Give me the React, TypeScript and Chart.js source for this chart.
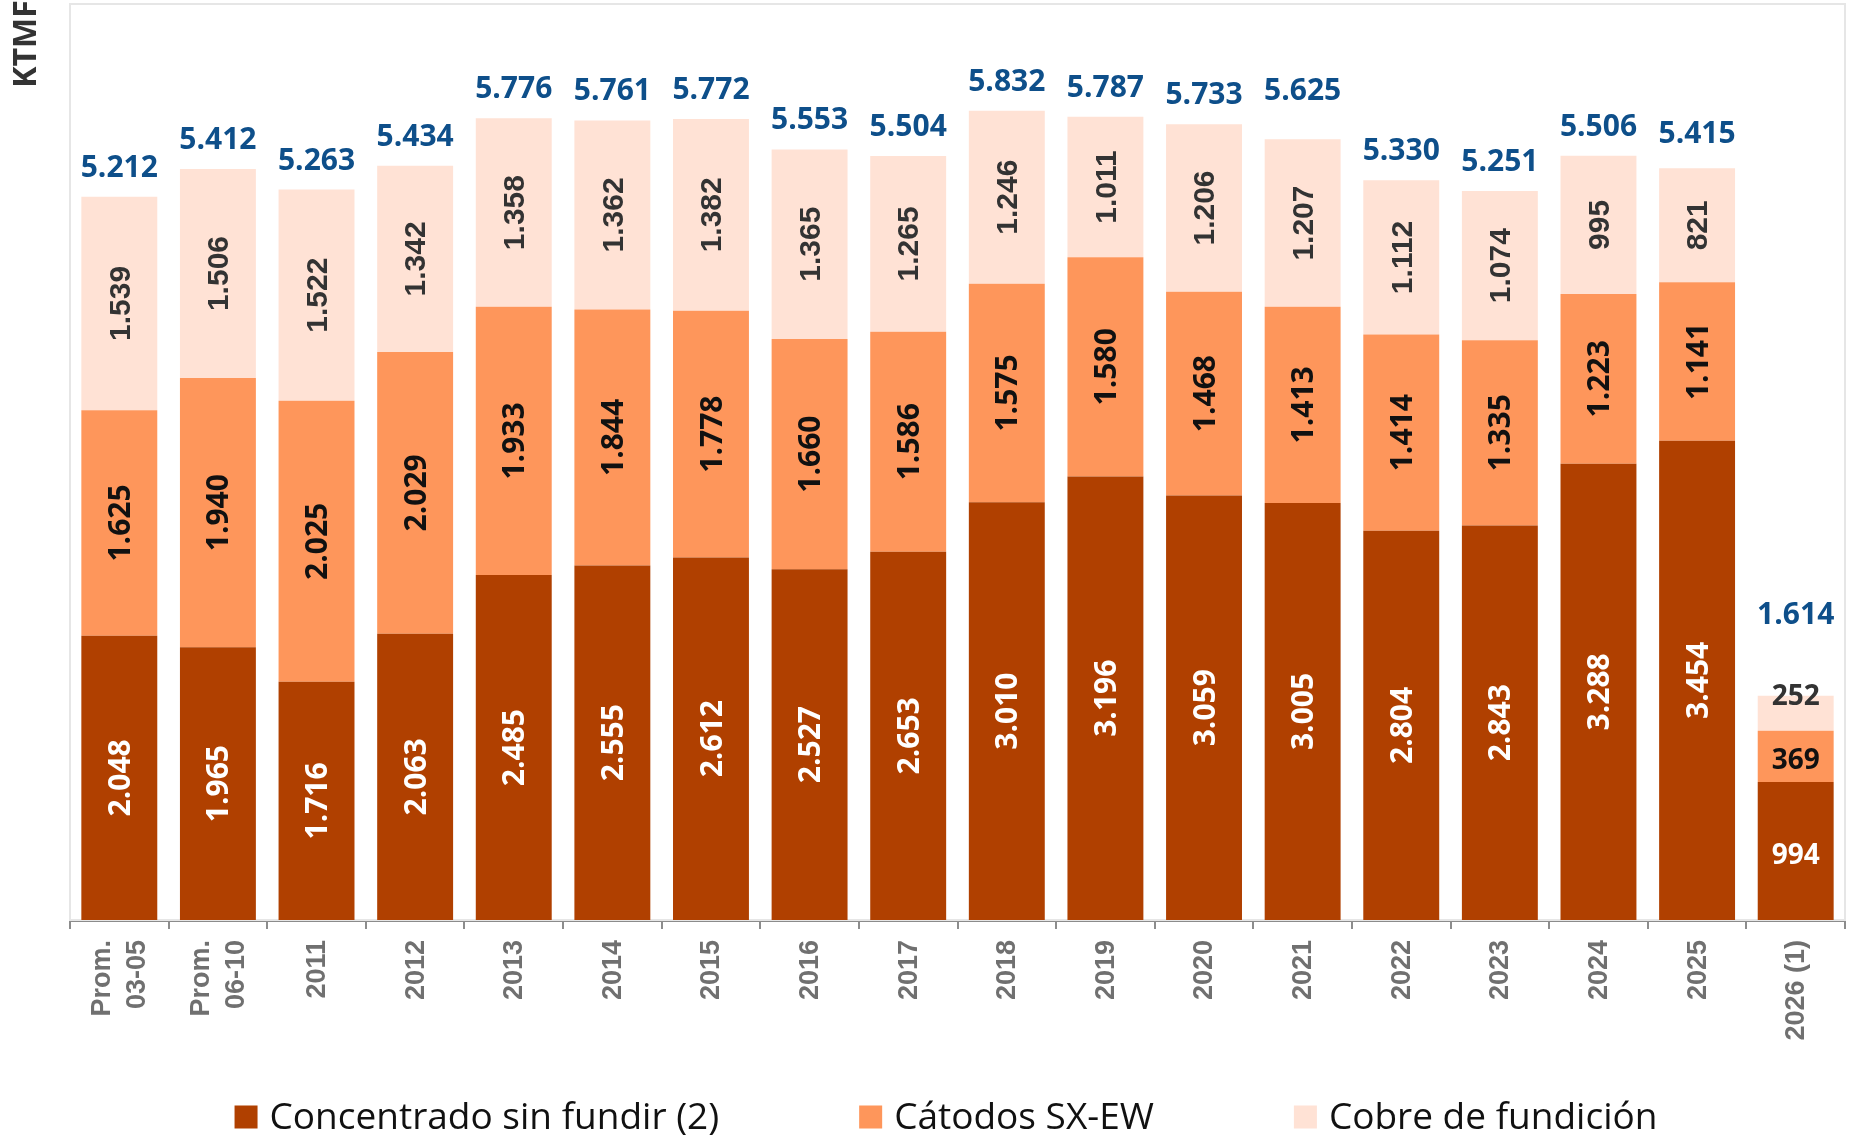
import React, { useEffect, useRef } from "react";
import { Chart, registerables } from "chart.js";

Chart.register(...registerables);

const categories: (string | string[])[] = [
  ["Prom.", "03-05"], ["Prom.", "06-10"], "2011", "2012", "2013", "2014", "2015", "2016",
  "2017", "2018", "2019", "2020", "2021", "2022", "2023", "2024", "2025", "2026 (1)",
];
const concentrado = [2048, 1965, 1716, 2063, 2485, 2555, 2612, 2527, 2653, 3010, 3196, 3059, 3005, 2804, 2843, 3288, 3454, 994];
const catodos = [1625, 1940, 2025, 2029, 1933, 1844, 1778, 1660, 1586, 1575, 1580, 1468, 1413, 1414, 1335, 1223, 1141, 369];
const fundicion = [1539, 1506, 1522, 1342, 1358, 1362, 1382, 1365, 1265, 1246, 1011, 1206, 1207, 1112, 1074, 995, 821, 252];
const totals = [5212, 5412, 5263, 5434, 5776, 5761, 5772, 5553, 5504, 5832, 5787, 5733, 5625, 5330, 5251, 5506, 5415, 1614];
const seriesNames = ["Concentrado sin fundir (2)", "Cátodos SX-EW", "Cobre de fundición"];
const seriesColors = ["#B04000", "#FE965B", "#FFE2D5"];
const yAxisTitle = "KTMF";

const fmt = (v: number) => String(v).replace(/\B(?=(\d{3})+(?!\d))/g, ".");

const framePlugin = {
  id: "frame",
  beforeDatasetsDraw(chart: any) {
    const { ctx, chartArea } = chart;
    ctx.save();
    ctx.strokeStyle = "#e6e6e6";
    ctx.lineWidth = 2;
    ctx.strokeRect(chartArea.left, chartArea.top, chartArea.right - chartArea.left, chartArea.bottom - chartArea.top);
    ctx.restore();
  },
};

const labelPlugin = {
  id: "valueLabels",
  afterDatasetsDraw(chart: any) {
    const ctx = chart.ctx;
    const last = categories.length - 1;
    ctx.save();
    chart.data.datasets.forEach((ds: any, di: number) => {
      const meta = chart.getDatasetMeta(di);
      meta.data.forEach((bar: any, i: number) => {
        const v = ds.data[i] as number;
        const p = bar.getProps(["x", "y", "base"], true);
        const cy = (p.y + p.base) / 2;
        let color = "#ffffff";
        let font = 'bold 30px "Open Sans"';
        if (di === 1) color = "#111111";
        if (di === 2) {
          color = "#333333";
          font = 'bold 30px "Liberation Sans"';
        }
        ctx.fillStyle = color;
        ctx.textAlign = "center";
        ctx.textBaseline = "middle";
        if (i === last) {
          ctx.font = 'bold 28px "Open Sans"';
          const yy = di === 2 ? p.y + 1 : cy + 5;
          ctx.fillText(fmt(v), p.x, yy);
        } else {
          ctx.font = font;
          ctx.save();
          ctx.translate(p.x, cy);
          ctx.rotate(-Math.PI / 2);
          ctx.fillText(fmt(v), 0, 2);
          ctx.restore();
        }
      });
    });
    // totals
    const topMeta = chart.getDatasetMeta(2);
    ctx.fillStyle = "#0E4F8A";
    ctx.font = 'bold 30px "Open Sans"';
    ctx.textAlign = "center";
    ctx.textBaseline = "alphabetic";
    topMeta.data.forEach((bar: any, i: number) => {
      const p = bar.getProps(["x", "y"], true);
      let off = 20;
      if (i === last) off = 72;
      else if (i === 12) off = 39;
      else if (i === 16) off = 25;
      ctx.fillText(fmt(totals[i]), p.x, p.y - off);
    });
    ctx.restore();
  },
};

const extrasPlugin = {
  id: "extras",
  afterDraw(chart: any) {
    const ctx = chart.ctx;
    // x axis labels
    const xs = chart.scales.x;
    ctx.save();
    ctx.fillStyle = "#707070";
    ctx.font = 'bold 27px "Liberation Sans"';
    ctx.textAlign = "right";
    ctx.textBaseline = "middle";
    categories.forEach((c, i) => {
      const lines = Array.isArray(c) ? c : [c];
      const px = xs.getPixelForValue(i);
      ctx.save();
      ctx.translate(px, xs.bottom - 217 + 20);
      ctx.rotate(-Math.PI / 2);
      lines.forEach((ln, k) => {
        const off = (k - (lines.length - 1) / 2) * 35;
        ctx.fillText(ln, 0, off + 1);
      });
      ctx.restore();
    });
    ctx.restore();

    // y axis title
    ctx.save();
    ctx.fillStyle = "#333333";
    ctx.font = 'bold 32px "Open Sans"';
    ctx.textAlign = "center";
    ctx.textBaseline = "middle";
    ctx.translate(27, 44);
    ctx.rotate(-Math.PI / 2);
    ctx.fillText(yAxisTitle, 0, 0);
    ctx.restore();

    // legend
    ctx.save();
    ctx.font = '37px "Open Sans"';
    ctx.textBaseline = "middle";
    ctx.textAlign = "left";
    const box = 23;
    const gapText = 12;
    const gapItem = 140;
    const widths = seriesNames.map((n) => ctx.measureText(n).width);
    const total = widths.reduce((a, w) => a + box + gapText + w, 0) + gapItem * (seriesNames.length - 1);
    let x = 946 - total / 2;
    const cy = 1117;
    seriesNames.forEach((n, k) => {
      ctx.fillStyle = seriesColors[k];
      ctx.fillRect(x, cy - box / 2, box, box);
      ctx.fillStyle = "#111111";
      ctx.fillText(n, x + box + gapText, cy + 1);
      x += box + gapText + widths[k] + gapItem;
    });
    ctx.restore();
  },
};

export default function App() {
  const ref = useRef<HTMLCanvasElement | null>(null);
  useEffect(() => {
    if (!ref.current) return;
    const chart = new Chart(ref.current, {
      type: "bar",
      data: {
        labels: categories,
        datasets: [
          { label: seriesNames[0], data: concentrado, backgroundColor: seriesColors[0] },
          { label: seriesNames[1], data: catodos, backgroundColor: seriesColors[1] },
          { label: seriesNames[2], data: fundicion, backgroundColor: seriesColors[2] },
        ],
      },
      options: {
        animation: false,
        responsive: true,
        maintainAspectRatio: false,
        layout: { padding: { left: 70, right: 8, top: 4, bottom: 0 } },
        datasets: { bar: { categoryPercentage: 1, barPercentage: 0.77 } },
        plugins: { legend: { display: false }, tooltip: { enabled: false } },
        scales: {
          x: {
            stacked: true,
            border: { display: true, color: "#8c8c8c", width: 3 },
            grid: { drawOnChartArea: false, drawTicks: true, tickLength: 9, color: "#8c8c8c", lineWidth: 2, offset: true },
            ticks: { display: false, autoSkip: false },
            afterFit: (scale: any) => {
              scale.height = 217;
            },
          },
          y: { stacked: true, display: false, min: 0, max: 6600 },
        },
      },
      plugins: [framePlugin, labelPlugin, extrasPlugin],
    } as any);
    return () => chart.destroy();
  }, []);
  return (
    <div style={{ position: "fixed", left: 0, top: 0, width: 1853, height: 1137, background: "#fff" }}>
      <canvas ref={ref} />
    </div>
  );
}
